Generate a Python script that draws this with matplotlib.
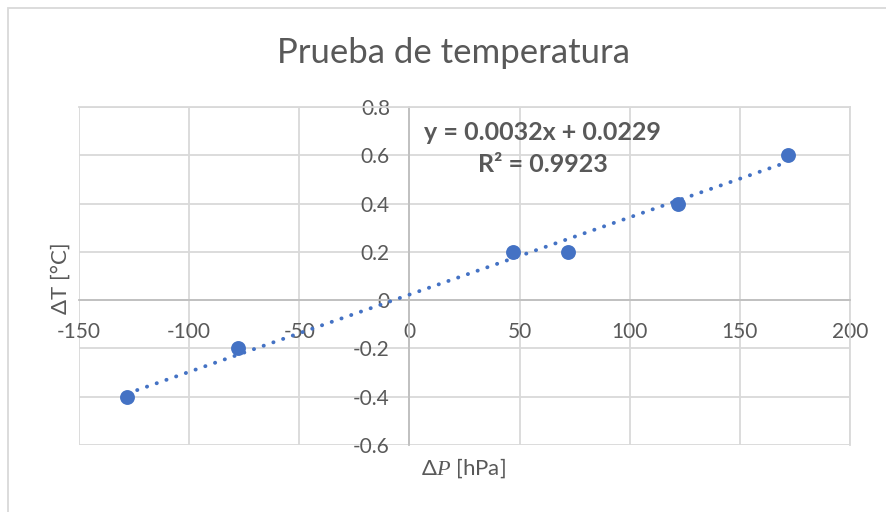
import matplotlib as mpl
mpl.use('Agg')
import matplotlib.pyplot as plt
import numpy as np

# ----------------------------------------------------------------------
# --- data

dP = [-128, -78, 47, 72, 122, 172]      # hPa
dT = [-0.4, -0.2, 0.2, 0.2, 0.4, 0.6]   # degC

xticks = [-150, -100, -50, 0, 50, 100, 150, 200]
yticks = [-0.6, -0.4, -0.2, 0, 0.2, 0.4, 0.6, 0.8]
ytick_labels = ['-0.6', '-0.4', '-0.2', '0', '0.2', '0.4', '0.6', '0.8']

title = 'Prueba de temperatura'
eq_text = 'y = 0.0032x + 0.0229\nR² = 0.9923'

# ----------------------------------------------------------------------
# --- style

blue = '#4472C4'
grey_txt = '#595959'
grey_grid = '#D9D9D9'

plt.rcParams['font.family'] = ['Lato', 'DejaVu Sans']
plt.rcParams['axes.unicode_minus'] = False
plt.rcParams['mathtext.fontset'] = 'custom'
plt.rcParams['mathtext.it'] = 'Liberation Serif:italic'
plt.rcParams['mathtext.rm'] = 'Lato'

fig = plt.figure(figsize=(8.86, 5.12), dpi=100)
ax = fig.add_axes([79/886, 1-445/512, 771/886, 338/512])

# outer chart border (cropped at right/bottom)
fig.patches.append(mpl.patches.Rectangle((8/886, -0.1), 1.2, 1-8/512+0.1,
                   transform=fig.transFigure, fill=False, ec=grey_grid, lw=1.3))

# --- trend line
m, c = np.polyfit(dP, dT, 1)
xx = np.array([min(dP), max(dP)])
ax.plot(xx, m*xx + c, ls=(0, (0.05, 2.6)), lw=2.8, color=blue,
        dash_capstyle='round', zorder=3)

# --- points
ax.scatter(dP, dT, s=115, color=blue, zorder=4, lw=0)

ax.set_xlim(-150, 200)
ax.set_ylim(-0.6, 0.8)
ax.set_xticks(xticks)
ax.set_yticks(yticks)
ax.set_yticklabels(ytick_labels)

ax.grid(True, color=grey_grid, lw=1.3)
ax.set_axisbelow(True)

for s in ['top', 'right']:
    ax.spines[s].set_color(grey_grid)
    ax.spines[s].set_linewidth(1.3)
ax.spines['left'].set_position(('data', 0))
ax.spines['bottom'].set_position(('data', 0))
ax.spines['left'].set_color('#BFBFBF')
ax.spines['bottom'].set_color('#BFBFBF')
ax.spines['left'].set_linewidth(1.3)
ax.spines['bottom'].set_linewidth(1.3)

ax.tick_params(axis='both', length=0, labelsize=15, labelcolor=grey_txt)
ax.tick_params(axis='x', pad=16)
ax.tick_params(axis='y', pad=14)

# --- labels
fig.text(453/886, 1-53/512, title, ha='center', va='center', fontsize=25,
         color=grey_txt)
ax.text(60.4, 0.628, eq_text, ha='center', va='center', fontsize=18,
        fontweight='bold', color=grey_txt, linespacing=1.45)

fig.text(61/886, 1-278/512, 'ΔT [°C]', rotation=90, ha='center', va='center',
         fontsize=16, color=grey_txt)
fig.text(463/886, 1-468/512, r'Δ$P$ [hPa]', ha='center', va='center',
         fontsize=16, color=grey_txt)

fig.savefig('out.png', dpi=100)
